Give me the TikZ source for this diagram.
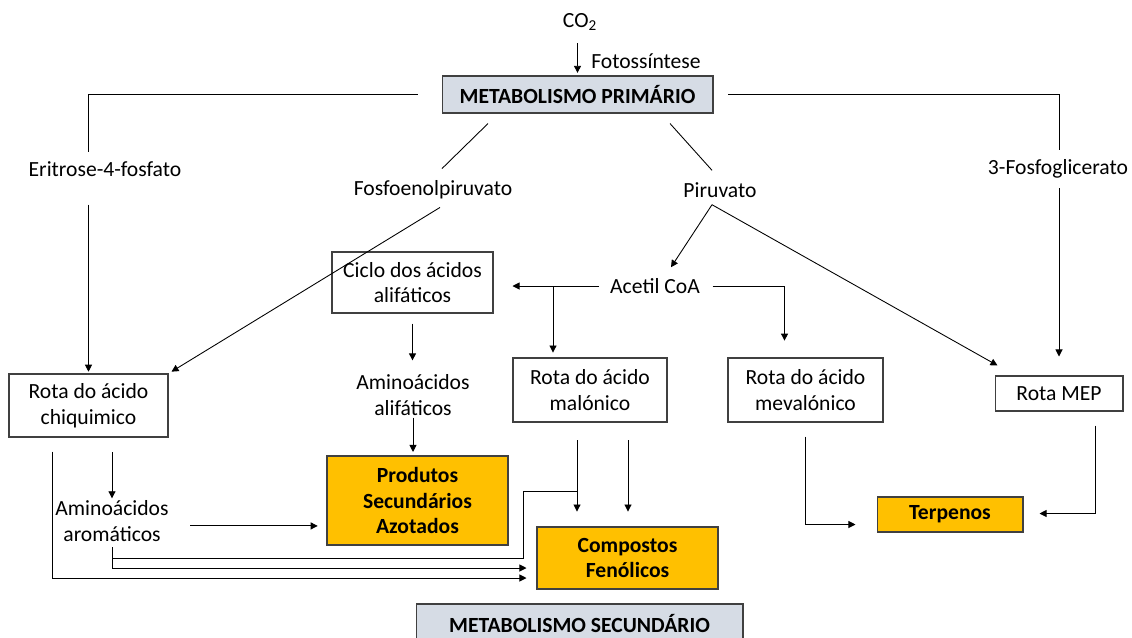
\documentclass[tikz,border=0pt]{standalone}
\usepackage{fontspec}
\setmainfont{Carlito}
\usetikzlibrary{arrows.meta}
\definecolor{gold}{HTML}{FFC000}
\definecolor{paleblue}{HTML}{D6DCE5}
\tikzset{
	every node/.style={font=\fontsize{12.3}{14.7}\selectfont, inner sep=1pt, align=center},
	box/.style={draw=black!75, line width=0.6pt, fill=white, inner sep=0pt},
	goldbox/.style={box, fill=gold, font=\fontsize{12.3}{14.7}\selectfont\bfseries},
	greybox/.style={box, fill=paleblue, font=\fontsize{12.3}{14.7}\selectfont\bfseries},
	arr/.style={-{Triangle[length=4pt,width=4pt]}}
}
\begin{document}
\begin{tikzpicture}[x=0.02cm, y=-0.02cm, line width=0.5pt]
	\clip (0,0) rectangle (1132,637);
	% primary level
	\node (co2) at (580,22) {CO\textsubscript{2}};
	\node (foto) at (646,61) {Fotossíntese};
	\node [greybox, minimum width=5.42cm, minimum height=0.74cm] (prim) at (577.5,94.5) {METABOLISMO PRIMÁRIO};
	\node (erit) at (105,169) {Eritrose-4-fosfato};
	\node (fosfog) at (1058,169) {3-Fosfoglicerato};
	\node (fep) at (433,190) {Fosfoenolpiruvato};
	\node (piru) at (720,190) {Piruvato};
	\node (acetil) at (655,286) {Acetil CoA};
	% routes
	\node [box, minimum width=3.22cm, minimum height=1.22cm] (ciclo) at (412.5,282.5) {Ciclo dos ácidos\\alifáticos};
	\node [box, minimum width=3.18cm, minimum height=1.26cm] (chiq) at (88.5,405.5) {Rota do ácido\\chiquimico};
	\node [box, minimum width=3.08cm, minimum height=1.28cm] (malon) at (590,390) {Rota do ácido\\malónico};
	\node [box, minimum width=3.10cm, minimum height=1.28cm] (meval) at (805.5,390) {Rota do ácido\\mevalónico};
	\node [box, minimum width=2.56cm, minimum height=0.70cm] (mep) at (1059,393.5) {Rota MEP};
	\node (amalif) at (413,395) {Aminoácidos\\alifáticos};
	\node (amarom) at (112,521) {Aminoácidos\\aromáticos};
	% secondary products
	\node [goldbox, minimum width=3.62cm, minimum height=1.78cm] (prod) at (417.5,500.5) {Produtos\\Secundários\\Azotados};
	\node [goldbox, minimum width=3.62cm, minimum height=1.24cm] (comp) at (627.5,558) {Compostos\\Fenólicos};
	\node [goldbox, minimum width=2.92cm, minimum height=0.70cm] (terp) at (950,514.5) {Terpenos};
	\node [greybox, minimum width=6.54cm, minimum height=0.76cm] (sec) at (579.5,623) {METABOLISMO SECUNDÁRIO};
	\coordinate (split) at (553,286);
	\coordinate (bend) at (523,491);
	\coordinate (mL) at ([xshift=-0.26cm]malon.south);
	\coordinate (mR) at ([xshift=0.76cm]malon.south);

	% connectors
	\draw [arr, shorten <=6pt, shorten >=1.5pt] (prim.north |- co2.south) -- (prim.north);
	\draw [shorten <=13.6pt, shorten >=4pt] (prim.west) -| (chiq.north |- erit.north);
	\draw [arr, shorten <=14.7pt, shorten >=1pt] (chiq.north |- erit.south) -- (chiq.north);
	\draw [shorten <=8.5pt, shorten >=4pt] (prim.east) -| (mep.north |- fosfog.north);
	\draw [arr, shorten <=4.5pt, shorten >=10.8pt] (mep.north |- fosfog.south) -- (mep.north);
	\draw ([shift={(-89.5,10)}]prim.south) -- ([shift={(9,-10)}]fep.north);
	\draw ([shift={(92.5,10)}]prim.south) -- ([shift={(-8,-10)}]piru.north);
	\draw [arr, shorten >=2pt] ([shift={(7,6)}]fep.south) -- (chiq.north east);
	\draw [arr] ([shift={(-8,5)}]piru.south) -- ([shift={(16,-9)}]acetil.north);
	\draw [arr] ([shift={(-8,5)}]piru.south) -- ([shift={(3,-10)}]mep.north west);
	\draw [arr, shorten <=5pt, shorten >=10.8pt] (acetil.west) -- (acetil.west -| ciclo.east);
	\draw [arr, shorten >=2.8pt] (split) -- (split |- malon.north);
	\draw [arr, shorten <=6pt, shorten >=9.6pt] (acetil.east) -| ([xshift=-0.42cm]meval.north);
	\draw [arr, shorten <=5.7pt, shorten >=6.8pt] (ciclo.south) -- (ciclo.south |- amalif.north);
	\draw [arr, shorten >=2pt] (amalif.south) -- (amalif.south |- prod.north);
	\draw [arr, shorten <=8.5pt] (chiq.south -| amarom.north) -- (amarom.north);
	\draw [arr, shorten <=11pt, shorten >=5pt] ([yshift=-2.8pt]amarom.east) -- ([yshift=-2.8pt]amarom.east -| prod.west);
	\draw [arr] ([yshift=-2pt]amarom.south) |- ([shift={(-10,10)}]comp.west);
	\draw ([yshift=-8.2pt]amarom.south) -| (bend) -- (bend -| mL);
	\draw [arr] ([shift={(-36,14)}]chiq.south) |- ([shift={(-10,20)}]comp.west);
	\draw [arr, shorten <=10.2pt, shorten >=8.5pt] (mL) -- (mL |- comp.north);
	\draw [arr, shorten <=10.2pt, shorten >=8.5pt] (mR) -- (mR |- comp.north);
	\draw [arr, shorten <=8pt] (meval.south) |- ([shift={(-21,10)}]terp.west);
	\draw [arr] ([shift={(36,14)}]mep.south) |- ([shift={(16,-1)}]terp.east);
\end{tikzpicture}
\end{document}
